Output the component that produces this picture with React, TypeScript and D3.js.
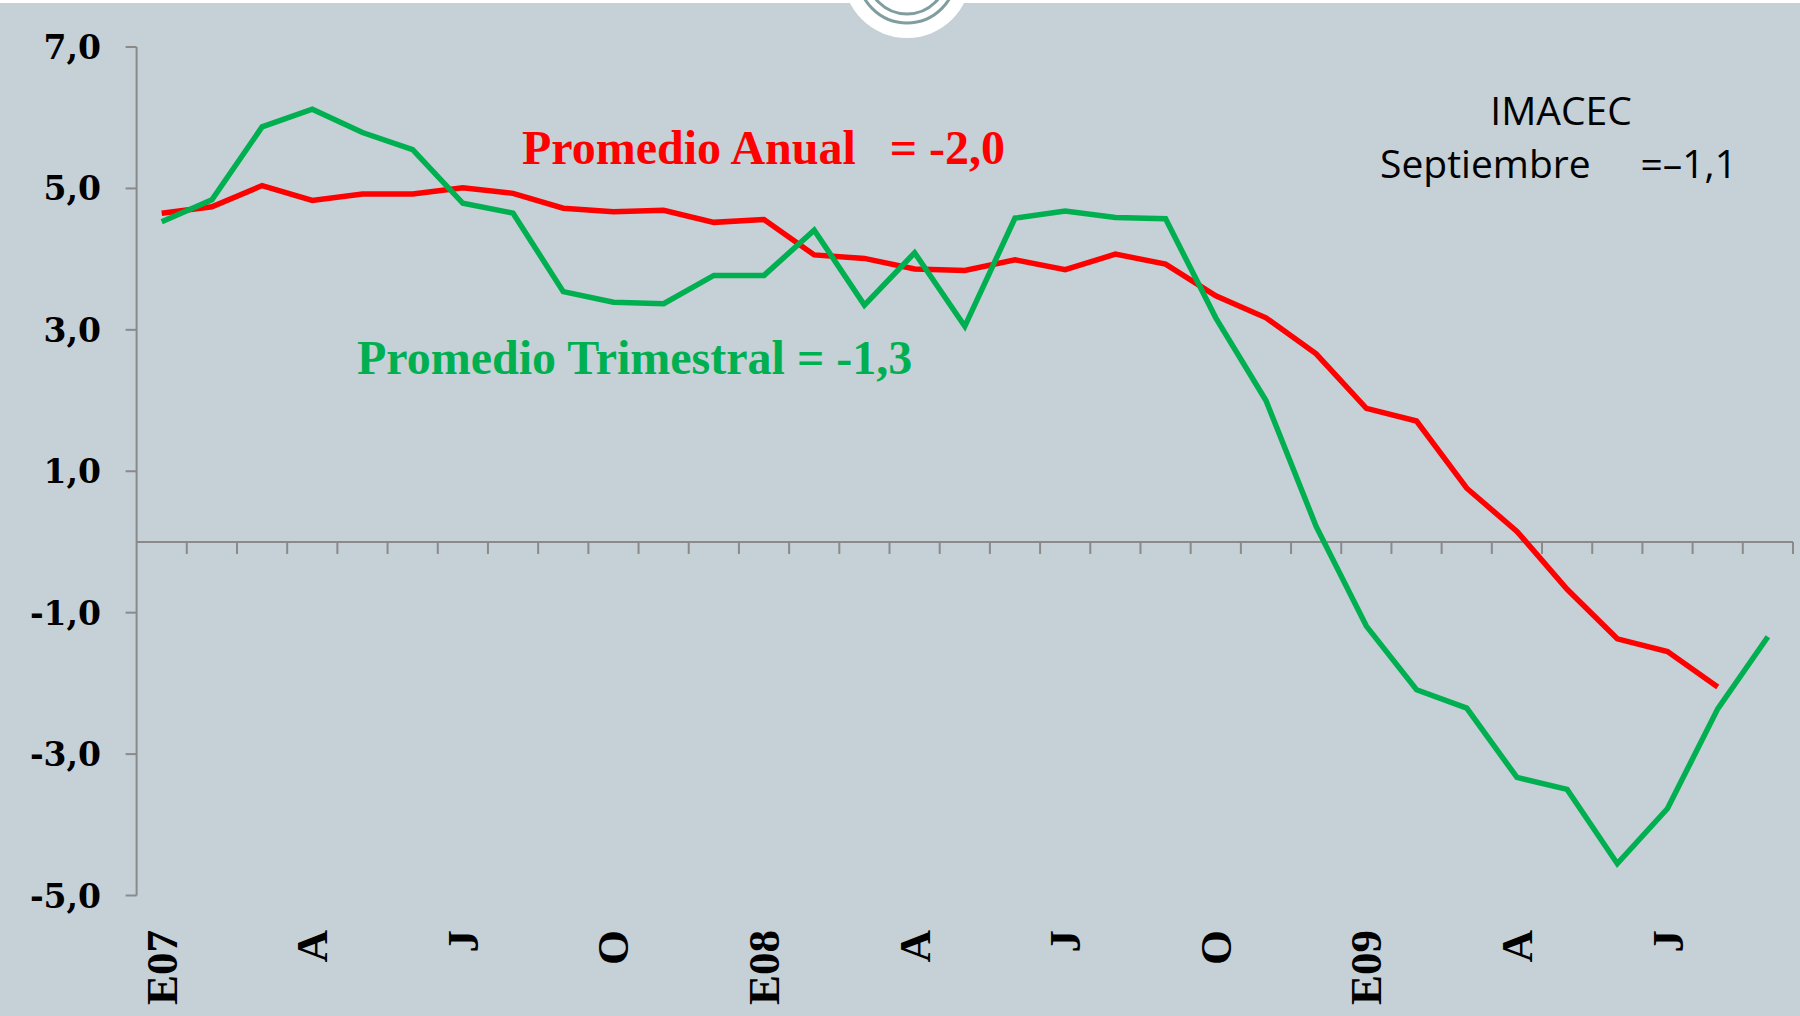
import React from "react";
import * as d3 from "d3";

const months = [
  "Ene07","Feb07","Mar07","Abr07","May07","Jun07","Jul07","Ago07","Sep07","Oct07","Nov07","Dic07",
  "Ene08","Feb08","Mar08","Abr08","May08","Jun08","Jul08","Ago08","Sep08","Oct08","Nov08","Dic08",
  "Ene09","Feb09","Mar09","Abr09","May09","Jun09","Jul09","Ago09","Sep09",
];
const tickLabels = ["E07","","","A","","","J","","","O","","","E08","","","A","","","J","","","O","","","E09","","","A","","","J","",""];
const promedioAnual = [4.65,4.74,5.04,4.83,4.92,4.92,5.01,4.93,4.72,4.67,4.69,4.52,4.56,4.06,4.01,3.86,3.84,3.99,3.85,4.07,3.93,3.48,3.17,2.66,1.89,1.71,0.76,0.15,-0.67,-1.37,-1.55,-2.05];
const promedioTrimestral = [4.53,4.84,5.87,6.12,5.79,5.55,4.79,4.65,3.54,3.39,3.37,3.77,3.77,4.41,3.35,4.09,3.05,4.58,4.68,4.59,4.57,3.17,2.00,0.22,-1.19,-2.09,-2.35,-3.33,-3.50,-4.55,-3.77,-2.36,-1.34];
const yTicks = [7,5,3,1,-1,-3,-5];

const W = 1800, H = 1016;
const serif = "'Liberation Serif', 'DejaVu Serif', serif";
const serifWide = "'DejaVu Serif', 'Liberation Serif', serif";
const sans = "'Open Sans', 'Noto Sans', sans-serif";

export default function App() {
  const x = d3.scaleBand<string>().domain(months).range([136.6, 1793]).paddingInner(0).paddingOuter(0);
  const y = d3.scaleLinear().domain([-5, 7]).range([895.5, 47]);
  const cx = (i: number) => (x(months[i]) as number) + x.bandwidth() / 2;
  const line = d3.line<number>().x((_, i) => cx(i)).y((d) => y(d));
  const axisColor = "#8a8a8a";
  const fmt = (v: number) => v.toFixed(1).replace(".", ",");
  return (
    <svg width={W} height={H} style={{ position: "absolute", left: 0, top: 0 }}>
      <rect x={0} y={0} width={W} height={H} fill="#ffffff" />
      <rect x={0} y={3} width={W} height={H - 3} fill="#c5d0d7" />
      {/* top emblem */}
      <circle cx={907} cy={-26} r={64} fill="#ffffff" />
      <circle cx={907} cy={-26} r={49} fill="none" stroke="#7f9e9d" strokeWidth={3} />
      <circle cx={907} cy={-26} r={40} fill="none" stroke="#7f9e9d" strokeWidth={3} />

      {/* y axis */}
      <line x1={x.range()[0]} x2={x.range()[0]} y1={y(7)} y2={y(-5)} stroke={axisColor} strokeWidth={2} />
      {yTicks.map((t) => (
        <g key={t}>
          <line x1={x.range()[0] - 11} x2={x.range()[0]} y1={y(t)} y2={y(t)} stroke={axisColor} strokeWidth={2} />
          <text x={101} y={y(t) + 12} textAnchor="end" fontFamily={serifWide} fontWeight="bold" fontSize={33} fill="#000">
            {fmt(t)}
          </text>
        </g>
      ))}
      {/* zero line and category ticks */}
      <line x1={x.range()[0]} x2={x.range()[1]} y1={y(0)} y2={y(0)} stroke={axisColor} strokeWidth={2} />
      {months.map((m) => (
        <line key={m} x1={(x(m) as number) + x.bandwidth()} x2={(x(m) as number) + x.bandwidth()} y1={y(0)} y2={y(0) + 12} stroke={axisColor} strokeWidth={2} />
      ))}
      {/* x labels */}
      {tickLabels.map((l, i) =>
        l ? (
          <text key={i} transform={`translate(${cx(i) + 15},930) rotate(-90)`} textAnchor="end" fontFamily={serif} fontWeight="bold" fontSize={45} fill="#000">
            {l}
          </text>
        ) : null
      )}

      {/* lines */}
      <path d={line(promedioAnual) || ""} fill="none" stroke="#ff0000" strokeWidth={5.5} strokeLinejoin="miter" />
      <path d={line(promedioTrimestral) || ""} fill="none" stroke="#00b050" strokeWidth={5.5} strokeLinejoin="miter" />

      {/* annotations */}
      <text x={522} y={164} fontFamily={serif} fontWeight="bold" fontSize={48} fill="#ff0000">Promedio Anual</text>
      <text x={1005} y={164} textAnchor="end" fontFamily={serif} fontWeight="bold" fontSize={48} fill="#ff0000">= -2,0</text>
      <text x={357} y={374} fontFamily={serif} fontWeight="bold" fontSize={48} fill="#00b050">Promedio Trimestral = -1,3</text>

      <text x={1561} y={125} textAnchor="middle" fontFamily={sans} fontSize={39} fill="#000">IMACEC</text>
      <text x={1380} y={178} fontFamily={sans} fontSize={39} fill="#000">Septiembre</text>
      <text x={1737} y={178} textAnchor="end" fontFamily={sans} fontSize={39} fill="#000">=–1,1</text>
    </svg>
  );
}
